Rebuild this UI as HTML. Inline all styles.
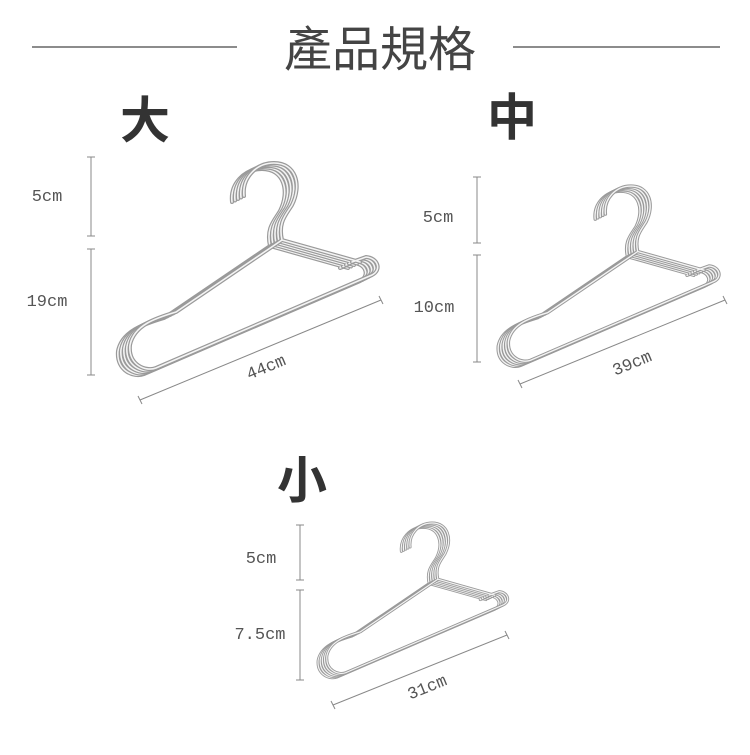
<!DOCTYPE html>
<html><head><meta charset="utf-8"><style>
html,body{margin:0;padding:0;background:#fff}
body{width:750px;height:750px;position:relative;overflow:hidden;font-family:"Liberation Sans","Noto Sans CJK TC",sans-serif}
</style></head><body>
<svg width="750" height="750" viewBox="0 0 750 750" xmlns="http://www.w3.org/2000/svg">
<defs>
<g id="h1">
<path d="M282,240 L360,262 M244,196 C242,178 256,163 274,163 C296,163 302,185 292,205 C286,215 278,222 282,240 L176,312 C156,318 134,325 130,345 C128,365 146,372 156,368 L372,275 C382,270 378,258 366,257 L352,262" fill="none" stroke="#9a9a9a" stroke-width="4" stroke-linecap="round"/>
<path d="M282,240 L360,262 M244,196 C242,178 256,163 274,163 C296,163 302,185 292,205 C286,215 278,222 282,240 L176,312 C156,318 134,325 130,345 C128,365 146,372 156,368 L372,275 C382,270 378,258 366,257 L352,262" fill="none" stroke="#f4f4f4" stroke-width="1.6" stroke-linecap="round"/>
</g>
<g id="hanger">
<use href="#h1" transform="translate(-12,6)"/>
<use href="#h1" transform="translate(-9,4.5)"/>
<use href="#h1" transform="translate(-6,3)"/>
<use href="#h1" transform="translate(-3,1.5)"/>
<use href="#h1"/>
</g>
</defs>
<g stroke="#666" stroke-width="1.5">
<line x1="32" y1="47" x2="237" y2="47"/><line x1="513" y1="47" x2="720" y2="47"/>
</g>
<text x="380" y="66" font-size="48" fill="#444" text-anchor="middle">產品規格</text>
<g font-weight="bold" fill="#333" font-size="50" text-anchor="middle">
<text x="145" y="138">大</text><text x="512" y="135">中</text><text x="302" y="498">小</text>
</g>
<use href="#hanger"/>
<g transform="translate(398,47.5) scale(0.85)"><use href="#hanger"/></g>
<g transform="translate(232,404) scale(0.73)"><use href="#hanger"/></g>
<g stroke="#888" stroke-width="1" fill="none">
<path d="M91,157V236M87,157H95M87,236H95M91,249V375M87,249H95M87,375H95"/>
<path d="M140,400L381,300M138,396L142,404M379,296L383,304"/>
<path d="M477,177V243M473,177H481M473,243H481M477,255V362M473,255H481M473,362H481"/>
<path d="M520,384L725,300M518,380L522,388M723,296L727,304"/>
<path d="M300,525V580M296,525H304M296,580H304M300,590V680M296,590H304M296,680H304"/>
<path d="M333,705L507,635M331,701L335,709M505,631L509,639"/>
</g>
<g font-family="Liberation Mono,monospace" font-size="17" fill="#555" text-anchor="middle">
<text x="47" y="201">5cm</text><text x="47" y="306">19cm</text>
<text x="438" y="222">5cm</text><text x="434" y="312">10cm</text>
<text x="261" y="563">5cm</text><text x="260" y="639">7.5cm</text>
<text transform="translate(268,372) rotate(-22.5)">44cm</text>
<text transform="translate(634,368) rotate(-22.5)">39cm</text>
<text transform="translate(429,692) rotate(-22)">31cm</text>
</g>
</svg>
</body></html>
